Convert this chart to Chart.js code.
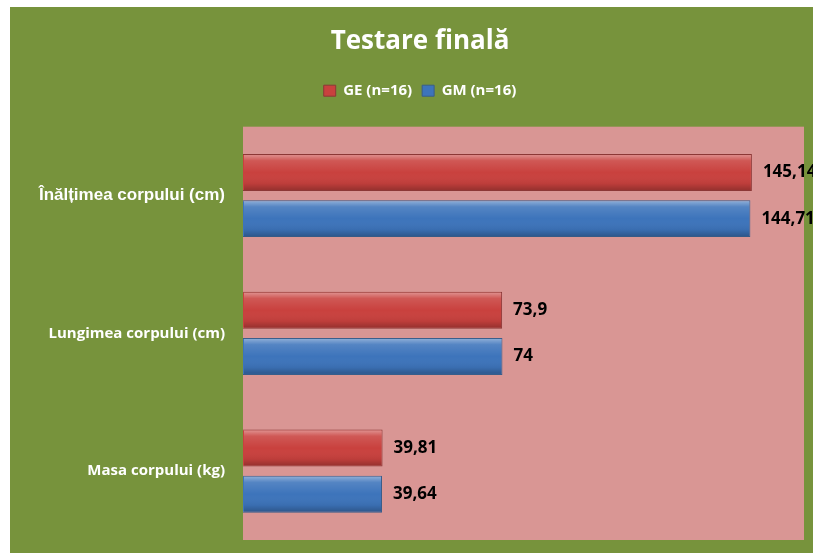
<!DOCTYPE html>
<html>
<head>
<meta charset="utf-8">
<script src="https://cdn.jsdelivr.net/npm/chart.js@4"></script>
<style>
    body { margin: 0; background: #ffffff; }
    #grafic {
        position: absolute;
        left: 10px;
        top: 7px;
        background: #77933c;
    }
</style>
</head>
<body>
<canvas id="grafic" width="803" height="546"></canvas>
<script>
// date
const categorii = ["Înălțimea corpului (cm)", "Lungimea corpului (cm)", "Masa corpului (kg)"];
const valoriGE = [145.14, 73.9, 39.81];
const valoriGM = [144.71, 74, 39.64];
const serii = ["GE (n=16)", "GM (n=16)"];

// fundal roz pentru zona graficului
const fundalZona = {
    id: "fundalZona",
    beforeDatasetsDraw(chart) {
        const { ctx, chartArea } = chart;
        ctx.save();
        ctx.fillStyle = "#d99694";
        ctx.fillRect(chartArea.left, chartArea.top, chartArea.right - chartArea.left, chartArea.bottom - chartArea.top);
        ctx.restore();
    }
};

// efect de relief pe bare + etichete cu valori
const reliefSiEtichete = {
    id: "reliefSiEtichete",
    afterDatasetsDraw(chart) {
        const ctx = chart.ctx;
        ctx.save();
        chart.data.datasets.forEach((ds, i) => {
            const meta = chart.getDatasetMeta(i);
            meta.data.forEach((bar, j) => {
                const top = bar.y - bar.height / 2;
                const bottom = bar.y + bar.height / 2;
                const g = ctx.createLinearGradient(0, top, 0, bottom);
                g.addColorStop(0, "rgba(255,255,255,0.45)");
                g.addColorStop(0.18, "rgba(255,255,255,0.12)");
                g.addColorStop(0.5, "rgba(255,255,255,0)");
                g.addColorStop(0.8, "rgba(0,0,0,0.06)");
                g.addColorStop(1, "rgba(0,0,0,0.28)");
                ctx.fillStyle = g;
                ctx.fillRect(bar.base + 1, top + 1, bar.x - bar.base - 2, bar.height - 2);

                // valoare
                ctx.fillStyle = "#000000";
                ctx.font = "bold 17px 'Open Sans'";
                ctx.textBaseline = "middle";
                ctx.textAlign = "left";
                ctx.fillText(String(ds.data[j]).replace(".", ","), bar.x + 11, bar.y);
            });
        });
        ctx.restore();
    }
};

new Chart(document.getElementById("grafic"), {
    type: "bar",
    data: {
        labels: categorii,
        datasets: [{
            label: serii[0],
            data: valoriGE,
            backgroundColor: "#c9413e",
            borderColor: "#8c3836",
            borderWidth: 1,
            categoryPercentage: 0.67,
            barPercentage: 0.8
        }, {
            label: serii[1],
            data: valoriGM,
            backgroundColor: "#3d74bb",
            borderColor: "#385d8a",
            borderWidth: 1,
            categoryPercentage: 0.67,
            barPercentage: 0.8
        }]
    },
    options: {
        indexAxis: "y",
        responsive: false,
        animation: false,
        layout: { padding: { left: 26, right: 9, top: 0, bottom: 13 } },
        plugins: {
            title: {
                display: true,
                text: "Testare finală",
                color: "#ffffff",
                font: { family: "Open Sans", size: 26, weight: "bold" },
                padding: { top: 19, bottom: 16 }
            },
            legend: {
                labels: {
                    color: "#ffffff",
                    font: { family: "Open Sans", size: 15, weight: "bold" },
                    boxWidth: 12,
                    boxHeight: 11,
                    padding: 10
                }
            },
            tooltip: { enabled: false }
        },
        scales: {
            x: {
                position: "top",
                min: 0,
                max: 160,
                grid: { display: false },
                border: { display: false },
                ticks: { display: false },
                afterFit: s => { s.height = 18.5; }
            },
            y: {
                grid: { display: false },
                border: { display: false },
                afterFit: s => {
                    s.width = 207;
                    s.paddingTop = 0;
                    s.paddingBottom = 0;
                },
                ticks: {
                    color: "#ffffff",
                    padding: 10,
                    font: c => c.index === 0
                        ? { family: "Liberation Sans", size: 17, weight: "bold" }
                        : { family: "Open Sans", size: 15, weight: "bold" }
                }
            }
        }
    },
    plugins: [fundalZona, reliefSiEtichete]
});
</script>
</body>
</html>
